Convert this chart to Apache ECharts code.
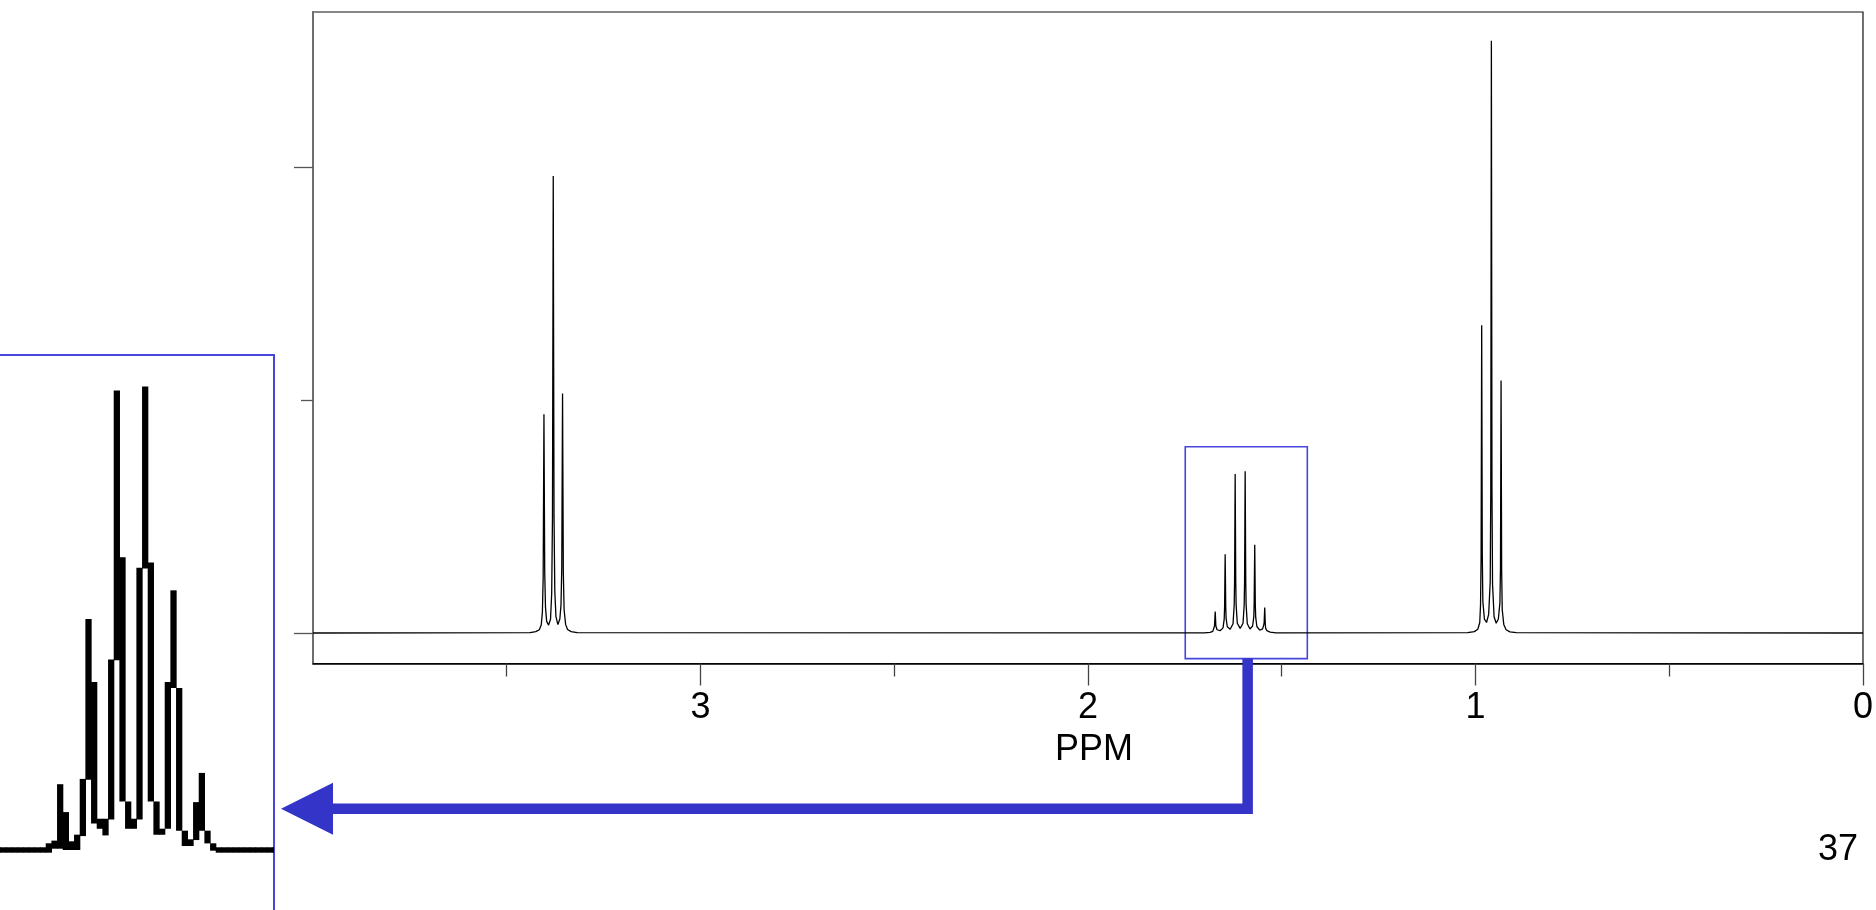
<!DOCTYPE html>
<html>
<head>
<meta charset="utf-8">
<title>1H NMR spectrum</title>
<script src="https://cdn.jsdelivr.net/npm/echarts@6/dist/echarts.min.js"></script>
<style>
  html, body { margin: 0; padding: 0; background: #fff; }
  #chart { width: 1876px; height: 910px; }
</style>
</head>
<body>
<div id="chart"></div>
<script>
// ---- spectrum data: [chemical shift (ppm), intensity] ----
const baselineStart = [[4.0, 0]];
const baselineEnd = [[0.0, 0]];

// triplet near 3.38 ppm
const tripletNear338 = [
  [3.440, 0.002], [3.425, 0.006], [3.416, 0.014], [3.411, 0.034], [3.408, 0.09],
  [3.406, 0.24], [3.404, 0.940], [3.402, 0.26], [3.400, 0.11], [3.397, 0.05],
  [3.392, 0.034], [3.387, 0.06], [3.384, 0.17], [3.382, 0.50], [3.380, 1.963],
  [3.378, 0.50], [3.376, 0.18], [3.373, 0.07], [3.368, 0.036], [3.363, 0.06],
  [3.360, 0.12], [3.358, 0.28], [3.356, 1.029], [3.354, 0.26], [3.352, 0.10],
  [3.348, 0.036], [3.343, 0.015], [3.334, 0.006], [3.318, 0.002]
];

// sextet near 1.61 ppm
const sextetNear161 = [
  [1.700, 0.001], [1.685, 0.003], [1.678, 0.007], [1.675, 0.014], [1.6735, 0.03],
  [1.6717, 0.092], [1.670, 0.03], [1.667, 0.014], [1.659, 0.010],
  [1.6515, 0.022], [1.6485, 0.06], [1.6475, 0.11], [1.6460, 0.338], [1.6445, 0.11],
  [1.6435, 0.062], [1.6405, 0.027], [1.6331, 0.016],
  [1.6257, 0.04], [1.6227, 0.12], [1.6217, 0.22], [1.6202, 0.683], [1.6187, 0.22],
  [1.6177, 0.12], [1.6147, 0.042], [1.6073, 0.02],
  [1.5999, 0.042], [1.5969, 0.12], [1.5959, 0.225], [1.5944, 0.695], [1.5929, 0.22],
  [1.5919, 0.12], [1.5889, 0.04], [1.5820, 0.017],
  [1.5752, 0.03], [1.5722, 0.068], [1.5712, 0.12], [1.5697, 0.379], [1.5682, 0.12],
  [1.5672, 0.068], [1.5642, 0.028], [1.5568, 0.012],
  [1.5494, 0.018], [1.5464, 0.035], [1.5454, 0.045], [1.5439, 0.109], [1.5424, 0.035],
  [1.5414, 0.02], [1.5384, 0.01], [1.530, 0.004], [1.515, 0.001]
];

// triplet near 0.96 ppm
const tripletNear096 = [
  [1.020, 0.002], [1.003, 0.006], [0.994, 0.016], [0.989, 0.045], [0.987, 0.12],
  [0.9855, 0.33], [0.984, 1.322], [0.9825, 0.34], [0.981, 0.135], [0.977, 0.06],
  [0.9715, 0.045], [0.966, 0.08], [0.962, 0.22], [0.9605, 0.62], [0.959, 2.545],
  [0.9575, 0.62], [0.956, 0.21], [0.952, 0.07], [0.9465, 0.042], [0.941, 0.06],
  [0.937, 0.13], [0.9355, 0.28], [0.934, 1.085], [0.9325, 0.27], [0.931, 0.10],
  [0.927, 0.037], [0.921, 0.014], [0.911, 0.005], [0.895, 0.002]
];

// axis ticks and labels
const ppmLabels = [0, 1, 2, 3];
const intensityMajorTicks = [0, 2];
const intensityMinorTicks = [1];

// expanded window around the sextet: [ppm high, ppm low, intensity top, intensity bottom]
const zoomWindow = [1.749, 1.434, 0.800, -0.110];

// enlarged raster view of the sextet: one column per raster pixel,
// each spanning [low, high] intensity
const insetColumn = [-2, -1, 0, 1, 2, 3, 4, 5, 6, 7, 8, 9, 10, 11, 12, 13, 14, 15, 16, 17, 18, 19, 20,
  21, 22, 23, 24, 25, 26, 27, 28, 29, 30, 31, 32, 33, 34, 35, 36, 37, 38, 39, 40, 41, 42, 43, 44, 45, 46, 47, 48];
const insetLow = [0, 0, 0, 0, 0, 0, 0, 0, 0, 0, 0, 0.006, 0.006, 0.004, 0.004, 0.004, 0.025, 0.110, 0.044, 0.036,
  0.026, 0.050, 0.290, 0.077, 0.036, 0.036, 0.050, 0.428, 0.077, 0.027, 0.027, 0.036, 0.248, 0.033, 0.010,
  0.010, 0.019, 0.033, 0.014, 0.003, 0, 0, 0, 0, 0, 0, 0, 0, 0, 0, 0];
const insetHigh = [0, 0, 0, 0, 0, 0, 0, 0, 0, 0, 0.006, 0.010, 0.095, 0.053, 0.009, 0.019, 0.103, 0.344, 0.249, 0.043,
  0.043, 0.283, 0.688, 0.437, 0.069, 0.043, 0.421, 0.694, 0.429, 0.069, 0.028, 0.249, 0.387, 0.240, 0.025,
  0.012, 0.068, 0.112, 0.025, 0.006, 0, 0, 0, 0, 0, 0, 0, 0, 0, 0, 0];

// callout from the window to the enlarged view
const calloutPpm = 1.588;
const arrowLevel = 0.062;

const FONT = '"Liberation Sans", Arial, Helvetica, sans-serif';
const CALLOUT_BLUE = '#3434c8';
const FRAME_BLUE = '#4646dc';
const INSET_STROKE = 5.4;

const spectrum = [].concat(baselineStart, tripletNear338, sextetNear161, tripletNear096, baselineEnd);
const insetData = insetColumn.map((k, i) => [k, insetLow[i], insetHigh[i]]);

const INSET_X = [-0.118, 48.23];
const INSET_Y = [-0.0904, 0.7455];
const MAIN_Y = [-0.131, 2.668];

const chart = echarts.init(document.getElementById('chart'), null, { renderer: 'canvas' });

const hiddenParts = {
  axisTick: { show: false },
  axisLabel: { show: false },
  splitLine: { show: false }
};

const option = {
  animation: false,
  backgroundColor: '#ffffff',
  title: {
    text: '37',
    right: 18,
    top: 832,
    padding: 0,
    textStyle: { fontSize: 36, fontWeight: 'normal', color: '#000', fontFamily: FONT }
  },
  grid: [
    // main spectrum
    { left: 313, top: 12, width: 1551, height: 651.5, show: true, borderColor: '#111', borderWidth: 1.2 },
    // enlarged view (frame drawn by its top and right axis lines)
    { left: 0, top: 355, width: 274, height: 555, show: false },
    // extra tick layer for the intensity axis
    { left: 313, top: 12, width: 1551, height: 651.5, show: false }
  ],
  xAxis: [
    {
      type: 'value', gridIndex: 0, min: 0, max: 4, interval: 1, inverse: true,
      name: 'PPM', nameLocation: 'middle', nameGap: 69,
      nameTextStyle: { fontSize: 36, color: '#000', fontFamily: FONT, padding: [0, 0, 0, 12] },
      axisLine: { show: true, onZero: false, lineStyle: { color: '#000', width: 1.5 } },
      axisTick: { show: true, customValues: ppmLabels, length: 22, lineStyle: { color: '#444', width: 1.3 } },
      minorTick: { show: true, splitNumber: 2, length: 13, lineStyle: { color: '#444', width: 1.3 } },
      axisLabel: { customValues: ppmLabels, margin: 27, fontSize: 36, color: '#000', fontFamily: FONT },
      splitLine: { show: false },
      minorSplitLine: { show: false }
    },
    Object.assign({
      type: 'value', gridIndex: 1, min: INSET_X[0], max: INSET_X[1], position: 'top',
      axisLine: { show: true, onZero: false, lineStyle: { color: FRAME_BLUE, width: 2 } }
    }, hiddenParts),
    { type: 'value', gridIndex: 2, min: 0, max: 4, inverse: true, show: false }
  ],
  yAxis: [
    {
      type: 'value', gridIndex: 0, min: MAIN_Y[0], max: MAIN_Y[1], position: 'left',
      axisLine: { show: true, onZero: false, lineStyle: { color: '#6e6e6e', width: 2 } },
      axisTick: { show: true, customValues: intensityMajorTicks, length: 19, lineStyle: { color: '#555', width: 1.3 } },
      axisLabel: { show: false },
      splitLine: { show: false }
    },
    Object.assign({
      type: 'value', gridIndex: 1, min: INSET_Y[0], max: INSET_Y[1], position: 'right',
      axisLine: { show: true, onZero: false, lineStyle: { color: FRAME_BLUE, width: 2 } }
    }, hiddenParts),
    {
      type: 'value', gridIndex: 2, min: MAIN_Y[0], max: MAIN_Y[1], position: 'left',
      axisLine: { show: false, onZero: false },
      axisTick: { show: true, customValues: intensityMinorTicks, length: 12, lineStyle: { color: '#555', width: 1.3 } },
      axisLabel: { show: false },
      splitLine: { show: false }
    }
  ],
  series: [
    {
      type: 'line',
      xAxisIndex: 0,
      yAxisIndex: 0,
      data: spectrum,
      showSymbol: false,
      symbol: 'none',
      clip: true,
      lineStyle: { color: '#000', width: 1.3 },
      markArea: {
        silent: true,
        itemStyle: { color: 'rgba(0,0,0,0)', borderColor: FRAME_BLUE, borderWidth: 1.6 },
        data: [[
          { coord: [zoomWindow[0], zoomWindow[2]] },
          { coord: [zoomWindow[1], zoomWindow[3]] }
        ]]
      }
    },
    {
      type: 'custom',
      xAxisIndex: 1,
      yAxisIndex: 1,
      data: insetData,
      clip: true,
      encode: { x: 0, y: [1, 2] },
      renderItem: function (params, api) {
        const k = api.value(0);
        const lo = api.value(1);
        const hi = api.value(2);
        const a = api.coord([k, hi]);
        const b = api.coord([k + 1, lo]);
        const half = INSET_STROKE / 2;
        return {
          type: 'rect',
          shape: { x: a[0] - 0.3, y: a[1] - half, width: b[0] - a[0] + 0.6, height: b[1] - a[1] + 2 * half },
          style: { fill: '#000' }
        };
      }
    }
  ]
};

chart.setOption(option);

// callout: from the bottom of the window down, then left to an arrow at the enlarged view
const start = chart.convertToPixel({ xAxisIndex: 0, yAxisIndex: 0 }, [calloutPpm, zoomWindow[3]]);
const insetEdge = chart.convertToPixel({ xAxisIndex: 1, yAxisIndex: 1 }, [INSET_X[1], arrowLevel]);
const tipX = insetEdge[0] + 7;
const arrowY = insetEdge[1];
const headLen = 52;
const headHalf = 26;

chart.setOption({
  graphic: [
    {
      type: 'polyline',
      z: 100,
      shape: { points: [[start[0], start[1]], [start[0], arrowY], [tipX + headLen - 2, arrowY]] },
      style: { stroke: CALLOUT_BLUE, lineWidth: 10.5, fill: null, lineJoin: 'miter', lineCap: 'butt' }
    },
    {
      type: 'polygon',
      z: 100,
      shape: { points: [[tipX, arrowY], [tipX + headLen, arrowY - headHalf], [tipX + headLen, arrowY + headHalf]] },
      style: { fill: CALLOUT_BLUE }
    }
  ]
});
</script>
</body>
</html>
